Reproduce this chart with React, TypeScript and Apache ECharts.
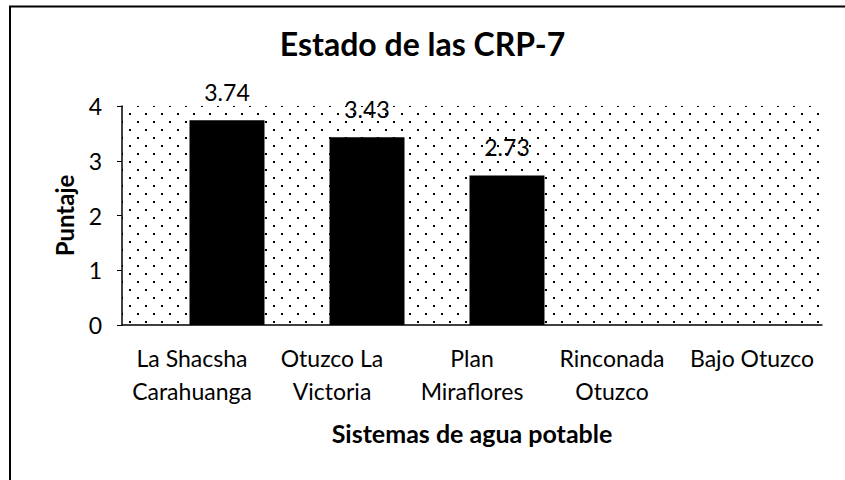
import React, { useEffect, useRef } from "react";
import * as echarts from "echarts";

const categories = [
  "La Shacsha\nCarahuanga",
  "Otuzco La\nVictoria",
  "Plan\nMiraflores",
  "Rinconada\nOtuzco",
  "Bajo Otuzco",
];
const puntaje: (number | null)[] = [3.74, 3.43, 2.73, null, null];
const emptySeries: (number | null)[] = [null, null, null, null, null];
const yTicks = [0, 1, 2, 3, 4];

const FONT = "Lato, 'Noto Sans', sans-serif";

function makeDots(): HTMLCanvasElement {
  const c = document.createElement("canvas");
  c.width = 16;
  c.height = 16;
  const ctx = c.getContext("2d")!;
  ctx.fillStyle = "#fff";
  ctx.fillRect(0, 0, 16, 16);
  ctx.fillStyle = "#000";
  ctx.fillRect(1, 1, 2, 2);
  ctx.fillRect(9, 9, 2, 2);
  return c;
}

export default function App() {
  const ref = useRef<HTMLDivElement>(null);
  useEffect(() => {
    if (!ref.current) return;
    const chart = echarts.init(ref.current, null, { renderer: "svg" });
    const dots = makeDots();
    chart.setOption({
      animation: false,
      backgroundColor: "#fff",
      title: {
        text: "Estado de las CRP-7",
        left: "center",
        top: 22,
        textStyle: { fontFamily: FONT, fontSize: 32, fontWeight: "bold", color: "#000" },
      },
      graphic: [
        {
          type: "rect",
          shape: { x: 10, y: 6.5, width: 900, height: 600 },
          style: { fill: "none", stroke: "#000", lineWidth: 2 },
          silent: true,
        },
      ],
      grid: {
        left: 122,
        right: 23,
        top: 106,
        bottom: 155,
        show: true,
        borderWidth: 0,
        backgroundColor: { image: dots, repeat: "repeat", imageWidth: 16, imageHeight: 16 } as any,
      },
      xAxis: {
        type: "category",
        data: categories,
        name: "Sistemas de agua potable",
        nameLocation: "middle",
        nameGap: 95,
        nameTextStyle: { fontFamily: FONT, fontSize: 25, fontWeight: "bold", color: "#000" },
        axisLine: { lineStyle: { color: "#000", width: 1.5 } },
        axisTick: { show: false },
        axisLabel: {
          fontFamily: FONT,
          fontSize: 23,
          color: "#000",
          lineHeight: 33,
          margin: 16,
          interval: 0,
        },
      },
      yAxis: {
        type: "value",
        min: yTicks[0],
        max: yTicks[yTicks.length - 1],
        interval: 1,
        name: "Puntaje",
        nameLocation: "middle",
        nameGap: 46,
        nameTextStyle: { fontFamily: FONT, fontSize: 24, fontWeight: "bold", color: "#000" },
        axisLine: { show: true, lineStyle: { color: "#000", width: 1.5 } },
        axisTick: { show: true, length: 5, lineStyle: { color: "#000" } },
        splitLine: { show: false },
        axisLabel: { fontFamily: FONT, fontSize: 23, color: "#000", margin: 20 },
      },
      series: [
        {
          type: "bar",
          name: "vacío",
          data: emptySeries,
          barWidth: 75,
          barGap: "-6.67%",
        },
        {
          type: "bar",
          name: "Puntaje",
          data: puntaje,
          barWidth: 75,
          barGap: "-6.67%",
          itemStyle: { color: "#000" },
          label: {
            show: true,
            position: "top",
            distance: 17,
            fontFamily: FONT,
            fontSize: 23,
            color: "#000",
            formatter: (p: any) => (p.value == null ? "" : Number(p.value).toFixed(2)),
          },
        },
      ],
    });
    return () => chart.dispose();
  }, []);
  return (
    <div
      ref={ref}
      style={{ position: "fixed", left: 0, top: 0, width: 845, height: 480 }}
    />
  );
}
